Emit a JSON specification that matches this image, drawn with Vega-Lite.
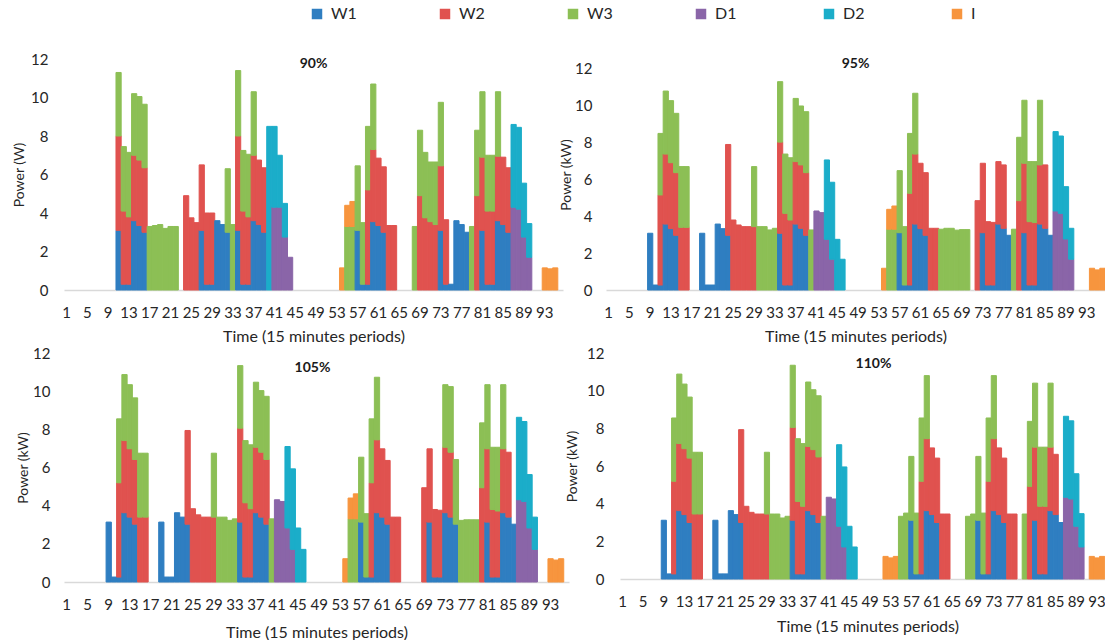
{
"$schema": "https://vega.github.io/schema/vega-lite/v6.json",
"padding": {"left": 12, "top": 6, "right": 0, "bottom": 0},
"datasets": {
"d90": [
{"t":11,"s":"W1","v":3.1},{"t":11,"s":"W2","v":4.9},{"t":11,"s":"W3","v":3.3},
{"t":12,"s":"W1","v":0.3},{"t":12,"s":"W2","v":3.8},{"t":12,"s":"W3","v":3.35},
{"t":13,"s":"W1","v":0.3},{"t":13,"s":"W2","v":3.5},{"t":13,"s":"W3","v":3.35},
{"t":14,"s":"W1","v":3.6},{"t":14,"s":"W2","v":3.4},{"t":14,"s":"W3","v":3.2},
{"t":15,"s":"W1","v":3.35},{"t":15,"s":"W2","v":3.4},{"t":15,"s":"W3","v":3.3},
{"t":16,"s":"W1","v":3.0},{"t":16,"s":"W2","v":3.35},{"t":16,"s":"W3","v":3.3},
{"t":17,"s":"W3","v":3.3},{"t":18,"s":"W3","v":3.35},{"t":19,"s":"W3","v":3.4},{"t":20,"s":"W3","v":3.2},{"t":21,"s":"W3","v":3.3},{"t":22,"s":"W3","v":3.3},
{"t":24,"s":"W2","v":4.9},{"t":25,"s":"W2","v":3.75},{"t":26,"s":"W2","v":3.5},
{"t":27,"s":"W1","v":3.1},{"t":27,"s":"W2","v":3.4},
{"t":28,"s":"W1","v":0.3},{"t":28,"s":"W2","v":3.7},
{"t":29,"s":"W1","v":0.3},{"t":29,"s":"W2","v":3.7},
{"t":30,"s":"W1","v":3.6},{"t":31,"s":"W1","v":3.4},
{"t":32,"s":"W1","v":3.0},{"t":32,"s":"W3","v":3.3},
{"t":33,"s":"W3","v":3.4},
{"t":34,"s":"W1","v":3.1},{"t":34,"s":"W2","v":4.9},{"t":34,"s":"W3","v":3.4},
{"t":35,"s":"W1","v":0.3},{"t":35,"s":"W2","v":3.8},{"t":35,"s":"W3","v":3.15},
{"t":36,"s":"W1","v":0.3},{"t":36,"s":"W2","v":3.5},{"t":36,"s":"W3","v":3.25},
{"t":37,"s":"W1","v":3.6},{"t":37,"s":"W2","v":3.4},{"t":37,"s":"W3","v":3.3},
{"t":38,"s":"W1","v":3.4},{"t":38,"s":"W2","v":3.35},
{"t":39,"s":"W1","v":3.0},{"t":39,"s":"W2","v":3.35},
{"t":40,"s":"D2","v":8.5},
{"t":41,"s":"D1","v":4.3},{"t":41,"s":"D2","v":4.2},
{"t":42,"s":"D1","v":4.3},{"t":42,"s":"D2","v":2.7},
{"t":43,"s":"D1","v":2.75},{"t":43,"s":"D2","v":1.75},
{"t":44,"s":"D1","v":1.7},
{"t":54,"s":"I","v":1.15},
{"t":55,"s":"W3","v":3.3},{"t":55,"s":"I","v":1.1},
{"t":56,"s":"W3","v":3.3},{"t":56,"s":"I","v":1.3},
{"t":57,"s":"W1","v":3.1},{"t":57,"s":"W3","v":3.35},
{"t":58,"s":"W1","v":0.3},{"t":58,"s":"W3","v":3.2},
{"t":59,"s":"W1","v":0.3},{"t":59,"s":"W2","v":4.9},{"t":59,"s":"W3","v":3.3},
{"t":60,"s":"W1","v":3.55},{"t":60,"s":"W2","v":3.75},{"t":60,"s":"W3","v":3.4},
{"t":61,"s":"W1","v":3.35},{"t":61,"s":"W2","v":3.5},
{"t":62,"s":"W1","v":3.0},{"t":62,"s":"W2","v":3.4},
{"t":63,"s":"W2","v":3.35},{"t":64,"s":"W2","v":3.35},
{"t":68,"s":"W3","v":3.3},
{"t":69,"s":"W2","v":4.9},{"t":69,"s":"W3","v":3.4},
{"t":70,"s":"W2","v":3.75},{"t":70,"s":"W3","v":3.4},
{"t":71,"s":"W2","v":3.55},{"t":71,"s":"W3","v":3.1},
{"t":72,"s":"W2","v":3.4},{"t":72,"s":"W3","v":3.25},
{"t":73,"s":"W1","v":3.1},{"t":73,"s":"W2","v":3.35},{"t":73,"s":"W3","v":3.3},
{"t":74,"s":"W1","v":0.3},{"t":74,"s":"W2","v":3.35},
{"t":75,"s":"W1","v":0.3},
{"t":76,"s":"W1","v":3.6},{"t":77,"s":"W1","v":3.4},{"t":78,"s":"W1","v":3.0},
{"t":79,"s":"W3","v":3.3},
{"t":80,"s":"W2","v":4.9},{"t":80,"s":"W3","v":3.4},
{"t":81,"s":"W1","v":3.1},{"t":81,"s":"W2","v":3.8},{"t":81,"s":"W3","v":3.4},
{"t":82,"s":"W1","v":0.3},{"t":82,"s":"W2","v":3.8},{"t":82,"s":"W3","v":2.9},
{"t":83,"s":"W1","v":0.3},{"t":83,"s":"W2","v":3.8},{"t":83,"s":"W3","v":2.9},
{"t":84,"s":"W1","v":3.6},{"t":84,"s":"W2","v":3.35},{"t":84,"s":"W3","v":3.35},
{"t":85,"s":"W1","v":3.4},{"t":85,"s":"W2","v":3.5},
{"t":86,"s":"W1","v":3.0},{"t":86,"s":"W2","v":3.35},
{"t":87,"s":"D1","v":4.3},{"t":87,"s":"D2","v":4.3},
{"t":88,"s":"D1","v":4.2},{"t":88,"s":"D2","v":4.25},
{"t":89,"s":"D1","v":2.75},{"t":89,"s":"D2","v":2.8},
{"t":90,"s":"D1","v":1.7},{"t":90,"s":"D2","v":1.75},
{"t":93,"s":"I","v":1.15},{"t":94,"s":"I","v":1.1},{"t":95,"s":"I","v":1.15}
],
"d95": [
{"t":9,"s":"W1","v":3.08},{"t":10,"s":"W1","v":0.27},
{"t":11,"s":"W1","v":0.27},{"t":11,"s":"W2","v":4.89},{"t":11,"s":"W3","v":3.34},
{"t":12,"s":"W1","v":3.58},{"t":12,"s":"W2","v":3.8},{"t":12,"s":"W3","v":3.42},
{"t":13,"s":"W1","v":3.33},{"t":13,"s":"W2","v":3.58},{"t":13,"s":"W3","v":3.37},
{"t":14,"s":"W1","v":2.97},{"t":14,"s":"W2","v":3.4},{"t":14,"s":"W3","v":3.22},
{"t":15,"s":"W2","v":3.4},{"t":15,"s":"W3","v":3.3},
{"t":16,"s":"W2","v":3.4},{"t":16,"s":"W3","v":3.3},
{"t":19,"s":"W1","v":3.08},{"t":20,"s":"W1","v":0.27},{"t":21,"s":"W1","v":0.27},
{"t":22,"s":"W1","v":3.58},{"t":23,"s":"W1","v":3.33},
{"t":24,"s":"W1","v":2.97},{"t":24,"s":"W2","v":4.93},
{"t":25,"s":"W2","v":3.8},{"t":26,"s":"W2","v":3.53},{"t":27,"s":"W2","v":3.44},{"t":28,"s":"W2","v":3.44},
{"t":29,"s":"W2","v":3.44},{"t":29,"s":"W3","v":3.26},
{"t":30,"s":"W3","v":3.44},{"t":31,"s":"W3","v":3.44},{"t":32,"s":"W3","v":3.26},{"t":33,"s":"W3","v":3.35},
{"t":34,"s":"W1","v":3.08},{"t":34,"s":"W2","v":4.95},{"t":34,"s":"W3","v":3.28},
{"t":35,"s":"W1","v":0.27},{"t":35,"s":"W2","v":3.89},{"t":35,"s":"W3","v":3.22},
{"t":36,"s":"W1","v":0.27},{"t":36,"s":"W2","v":3.53},{"t":36,"s":"W3","v":3.38},
{"t":37,"s":"W1","v":3.58},{"t":37,"s":"W2","v":3.39},{"t":37,"s":"W3","v":3.43},
{"t":38,"s":"W1","v":3.35},{"t":38,"s":"W2","v":3.44},{"t":38,"s":"W3","v":3.2},
{"t":39,"s":"W1","v":2.97},{"t":39,"s":"W2","v":3.4},{"t":39,"s":"W3","v":3.31},
{"t":40,"s":"W3","v":3.26},
{"t":41,"s":"D1","v":4.29},{"t":42,"s":"D1","v":4.2},
{"t":43,"s":"D1","v":2.75},{"t":43,"s":"D2","v":4.31},
{"t":44,"s":"D1","v":1.67},{"t":44,"s":"D2","v":4.18},
{"t":45,"s":"D2","v":2.75},{"t":46,"s":"D2","v":1.67},
{"t":54,"s":"I","v":1.18},
{"t":55,"s":"W3","v":3.3},{"t":55,"s":"I","v":1.08},
{"t":56,"s":"W3","v":3.3},{"t":56,"s":"I","v":1.26},
{"t":57,"s":"W1","v":3.11},{"t":57,"s":"W3","v":3.37},
{"t":58,"s":"W1","v":0.27},{"t":58,"s":"W3","v":3.17},
{"t":59,"s":"W1","v":0.27},{"t":59,"s":"W2","v":4.98},{"t":59,"s":"W3","v":3.25},
{"t":60,"s":"W1","v":3.58},{"t":60,"s":"W2","v":3.8},{"t":60,"s":"W3","v":3.3},
{"t":61,"s":"W1","v":3.33},{"t":61,"s":"W2","v":3.55},
{"t":62,"s":"W1","v":2.97},{"t":62,"s":"W2","v":3.4},
{"t":63,"s":"W2","v":3.35},{"t":64,"s":"W2","v":3.35},
{"t":65,"s":"W3","v":3.3},{"t":66,"s":"W3","v":3.35},{"t":67,"s":"W3","v":3.35},{"t":68,"s":"W3","v":3.25},{"t":69,"s":"W3","v":3.28},{"t":70,"s":"W3","v":3.28},
{"t":72,"s":"W2","v":4.85},
{"t":73,"s":"W1","v":3.11},{"t":73,"s":"W2","v":3.77},
{"t":74,"s":"W1","v":0.27},{"t":74,"s":"W2","v":3.44},
{"t":75,"s":"W1","v":0.27},{"t":75,"s":"W2","v":3.4},
{"t":76,"s":"W1","v":3.58},{"t":76,"s":"W2","v":3.39},
{"t":77,"s":"W1","v":3.35},{"t":77,"s":"W2","v":3.44},
{"t":78,"s":"W1","v":2.97},
{"t":79,"s":"W3","v":3.3},
{"t":80,"s":"W2","v":4.85},{"t":80,"s":"W3","v":3.44},
{"t":81,"s":"W1","v":3.11},{"t":81,"s":"W2","v":3.77},{"t":81,"s":"W3","v":3.42},
{"t":82,"s":"W1","v":0.27},{"t":82,"s":"W2","v":3.44},{"t":82,"s":"W3","v":3.26},
{"t":83,"s":"W1","v":0.27},{"t":83,"s":"W2","v":3.39},{"t":83,"s":"W3","v":3.31},
{"t":84,"s":"W1","v":3.58},{"t":84,"s":"W2","v":3.21},{"t":84,"s":"W3","v":3.51},
{"t":85,"s":"W1","v":3.35},{"t":85,"s":"W2","v":3.44},
{"t":86,"s":"W1","v":2.97},
{"t":87,"s":"D1","v":4.29},{"t":87,"s":"D2","v":4.31},
{"t":88,"s":"D1","v":4.16},{"t":88,"s":"D2","v":4.2},
{"t":89,"s":"D1","v":2.77},{"t":89,"s":"D2","v":2.84},
{"t":90,"s":"D1","v":1.67},{"t":90,"s":"D2","v":1.68},
{"t":94,"s":"I","v":1.18},{"t":95,"s":"I","v":1.09},{"t":96,"s":"I","v":1.18}
],
"d105": [
{"t":9,"s":"W1","v":3.14},{"t":10,"s":"W1","v":0.26},
{"t":11,"s":"W1","v":0.26},{"t":11,"s":"W2","v":4.94},{"t":11,"s":"W3","v":3.35},
{"t":12,"s":"W1","v":3.63},{"t":12,"s":"W2","v":3.78},{"t":12,"s":"W3","v":3.46},
{"t":13,"s":"W1","v":3.4},{"t":13,"s":"W2","v":3.58},{"t":13,"s":"W3","v":3.36},
{"t":14,"s":"W1","v":3.03},{"t":14,"s":"W2","v":3.39},{"t":14,"s":"W3","v":3.23},
{"t":15,"s":"W2","v":3.4},{"t":15,"s":"W3","v":3.35},
{"t":16,"s":"W2","v":3.4},{"t":16,"s":"W3","v":3.35},
{"t":19,"s":"W1","v":3.14},{"t":20,"s":"W1","v":0.26},{"t":21,"s":"W1","v":0.26},
{"t":22,"s":"W1","v":3.63},{"t":23,"s":"W1","v":3.4},
{"t":24,"s":"W1","v":3.03},{"t":24,"s":"W2","v":4.91},
{"t":25,"s":"W2","v":3.84},{"t":26,"s":"W2","v":3.52},{"t":27,"s":"W2","v":3.4},{"t":28,"s":"W2","v":3.4},
{"t":29,"s":"W2","v":3.4},{"t":29,"s":"W3","v":3.35},
{"t":30,"s":"W3","v":3.4},{"t":31,"s":"W3","v":3.4},{"t":32,"s":"W3","v":3.23},{"t":33,"s":"W3","v":3.31},
{"t":34,"s":"W1","v":3.14},{"t":34,"s":"W2","v":4.92},{"t":34,"s":"W3","v":3.28},
{"t":35,"s":"W1","v":0.26},{"t":35,"s":"W2","v":3.89},{"t":35,"s":"W3","v":3.26},
{"t":36,"s":"W1","v":0.26},{"t":36,"s":"W2","v":3.58},{"t":36,"s":"W3","v":3.35},
{"t":37,"s":"W1","v":3.63},{"t":37,"s":"W2","v":3.43},{"t":37,"s":"W3","v":3.41},
{"t":38,"s":"W1","v":3.4},{"t":38,"s":"W2","v":3.4},{"t":38,"s":"W3","v":3.23},
{"t":39,"s":"W1","v":3.03},{"t":39,"s":"W2","v":3.39},{"t":39,"s":"W3","v":3.31},
{"t":40,"s":"W3","v":3.31},
{"t":41,"s":"D1","v":4.31},{"t":42,"s":"D1","v":4.22},
{"t":43,"s":"D1","v":2.83},{"t":43,"s":"D2","v":4.27},
{"t":44,"s":"D1","v":1.71},{"t":44,"s":"D2","v":4.22},
{"t":45,"s":"D2","v":2.83},{"t":46,"s":"D2","v":1.71},
{"t":54,"s":"I","v":1.22},
{"t":55,"s":"W3","v":3.31},{"t":55,"s":"I","v":1.09},
{"t":56,"s":"W3","v":3.31},{"t":56,"s":"I","v":1.31},
{"t":57,"s":"W1","v":3.14},{"t":57,"s":"W3","v":3.4},
{"t":58,"s":"W1","v":0.26},{"t":58,"s":"W3","v":3.32},
{"t":59,"s":"W1","v":0.26},{"t":59,"s":"W2","v":4.94},{"t":59,"s":"W3","v":3.35},
{"t":60,"s":"W1","v":3.63},{"t":60,"s":"W2","v":3.82},{"t":60,"s":"W3","v":3.28},
{"t":61,"s":"W1","v":3.4},{"t":61,"s":"W2","v":3.58},
{"t":62,"s":"W1","v":3.03},{"t":62,"s":"W2","v":3.34},
{"t":63,"s":"W2","v":3.4},{"t":64,"s":"W2","v":3.4},
{"t":69,"s":"W2","v":4.94},
{"t":70,"s":"W1","v":3.14},{"t":70,"s":"W2","v":3.84},
{"t":71,"s":"W1","v":0.26},{"t":71,"s":"W2","v":3.54},
{"t":72,"s":"W1","v":0.26},{"t":72,"s":"W2","v":3.5},
{"t":73,"s":"W1","v":3.63},{"t":73,"s":"W2","v":3.43},{"t":73,"s":"W3","v":3.28},
{"t":74,"s":"W1","v":3.4},{"t":74,"s":"W2","v":3.4},{"t":74,"s":"W3","v":3.44},
{"t":75,"s":"W1","v":3.03},{"t":75,"s":"W3","v":3.39},
{"t":76,"s":"W3","v":3.23},{"t":77,"s":"W3","v":3.26},{"t":78,"s":"W3","v":3.26},{"t":79,"s":"W3","v":3.26},
{"t":80,"s":"W2","v":4.94},{"t":80,"s":"W3","v":3.4},
{"t":81,"s":"W1","v":3.14},{"t":81,"s":"W2","v":3.84},{"t":81,"s":"W3","v":3.36},
{"t":82,"s":"W1","v":0.26},{"t":82,"s":"W2","v":3.54},{"t":82,"s":"W3","v":3.26},
{"t":83,"s":"W1","v":0.26},{"t":83,"s":"W2","v":3.46},{"t":83,"s":"W3","v":3.34},
{"t":84,"s":"W1","v":3.63},{"t":84,"s":"W2","v":3.35},{"t":84,"s":"W3","v":3.36},
{"t":85,"s":"W1","v":3.4},{"t":85,"s":"W2","v":3.4},
{"t":86,"s":"W1","v":3.03},
{"t":87,"s":"D1","v":4.31},{"t":87,"s":"D2","v":4.32},
{"t":88,"s":"D1","v":4.22},{"t":88,"s":"D2","v":4.19},
{"t":89,"s":"D1","v":2.83},{"t":89,"s":"D2","v":2.8},
{"t":90,"s":"D1","v":1.71},{"t":90,"s":"D2","v":1.69},
{"t":93,"s":"I","v":1.22},{"t":94,"s":"I","v":1.15},{"t":95,"s":"I","v":1.22}
],
"d110": [
{"t":9,"s":"W1","v":3.12},{"t":10,"s":"W1","v":0.27},
{"t":11,"s":"W1","v":0.27},{"t":11,"s":"W2","v":4.92},{"t":11,"s":"W3","v":3.36},
{"t":12,"s":"W1","v":3.63},{"t":12,"s":"W2","v":3.56},{"t":12,"s":"W3","v":3.69},
{"t":13,"s":"W1","v":3.42},{"t":13,"s":"W2","v":3.5},{"t":13,"s":"W3","v":3.43},
{"t":14,"s":"W1","v":3.0},{"t":14,"s":"W2","v":3.42},{"t":14,"s":"W3","v":3.24},
{"t":15,"s":"W2","v":3.45},{"t":15,"s":"W3","v":3.28},
{"t":16,"s":"W2","v":3.45},{"t":16,"s":"W3","v":3.28},
{"t":19,"s":"W1","v":3.12},{"t":20,"s":"W1","v":0.27},{"t":21,"s":"W1","v":0.27},
{"t":22,"s":"W1","v":3.63},{"t":23,"s":"W1","v":3.42},
{"t":24,"s":"W1","v":3.0},{"t":24,"s":"W2","v":4.93},
{"t":25,"s":"W2","v":3.86},{"t":26,"s":"W2","v":3.54},{"t":27,"s":"W2","v":3.45},{"t":28,"s":"W2","v":3.45},
{"t":29,"s":"W2","v":3.45},{"t":29,"s":"W3","v":3.28},
{"t":30,"s":"W3","v":3.45},{"t":31,"s":"W3","v":3.45},{"t":32,"s":"W3","v":3.24},{"t":33,"s":"W3","v":3.33},
{"t":34,"s":"W1","v":3.12},{"t":34,"s":"W2","v":4.93},{"t":34,"s":"W3","v":3.3},
{"t":35,"s":"W1","v":0.27},{"t":35,"s":"W2","v":3.85},{"t":35,"s":"W3","v":3.33},
{"t":36,"s":"W1","v":0.27},{"t":36,"s":"W2","v":3.59},{"t":36,"s":"W3","v":3.33},
{"t":37,"s":"W1","v":3.63},{"t":37,"s":"W2","v":3.41},{"t":37,"s":"W3","v":3.42},
{"t":38,"s":"W1","v":3.42},{"t":38,"s":"W2","v":3.45},{"t":38,"s":"W3","v":3.18},
{"t":39,"s":"W1","v":3.0},{"t":39,"s":"W2","v":3.48},{"t":39,"s":"W3","v":3.25},
{"t":40,"s":"W3","v":3.33},
{"t":41,"s":"D1","v":4.34},{"t":42,"s":"D1","v":4.25},
{"t":43,"s":"D1","v":2.8},{"t":43,"s":"D2","v":4.33},
{"t":44,"s":"D1","v":1.7},{"t":44,"s":"D2","v":4.25},
{"t":45,"s":"D2","v":2.8},{"t":46,"s":"D2","v":1.7},
{"t":52,"s":"I","v":1.2},{"t":53,"s":"I","v":1.12},{"t":54,"s":"I","v":1.2},
{"t":55,"s":"W3","v":3.33},{"t":56,"s":"W3","v":3.5},
{"t":57,"s":"W1","v":3.12},{"t":57,"s":"W3","v":3.39},
{"t":58,"s":"W1","v":0.27},{"t":58,"s":"W3","v":3.23},
{"t":59,"s":"W1","v":0.27},{"t":59,"s":"W2","v":4.92},{"t":59,"s":"W3","v":3.36},
{"t":60,"s":"W1","v":3.63},{"t":60,"s":"W2","v":3.82},{"t":60,"s":"W3","v":3.35},
{"t":61,"s":"W1","v":3.42},{"t":61,"s":"W2","v":3.54},
{"t":62,"s":"W1","v":3.0},{"t":62,"s":"W2","v":3.42},
{"t":63,"s":"W2","v":3.45},{"t":64,"s":"W2","v":3.45},
{"t":68,"s":"W3","v":3.33},{"t":69,"s":"W3","v":3.45},
{"t":70,"s":"W1","v":3.12},{"t":70,"s":"W3","v":3.39},
{"t":71,"s":"W1","v":0.27},{"t":71,"s":"W3","v":3.23},
{"t":72,"s":"W1","v":0.27},{"t":72,"s":"W2","v":4.92},{"t":72,"s":"W3","v":3.36},
{"t":73,"s":"W1","v":3.63},{"t":73,"s":"W2","v":3.82},{"t":73,"s":"W3","v":3.35},
{"t":74,"s":"W1","v":3.42},{"t":74,"s":"W2","v":3.54},
{"t":75,"s":"W1","v":3.0},{"t":75,"s":"W2","v":3.42},
{"t":76,"s":"W2","v":3.45},{"t":77,"s":"W2","v":3.45},
{"t":79,"s":"W3","v":3.45},
{"t":80,"s":"W2","v":4.92},{"t":80,"s":"W3","v":3.45},
{"t":81,"s":"W1","v":3.12},{"t":81,"s":"W2","v":3.88},{"t":81,"s":"W3","v":3.4},
{"t":82,"s":"W1","v":0.27},{"t":82,"s":"W2","v":3.59},{"t":82,"s":"W3","v":3.14},
{"t":83,"s":"W1","v":0.27},{"t":83,"s":"W2","v":3.59},{"t":83,"s":"W3","v":3.14},
{"t":84,"s":"W1","v":3.63},{"t":84,"s":"W2","v":3.37},{"t":84,"s":"W3","v":3.4},
{"t":85,"s":"W1","v":3.42},{"t":85,"s":"W2","v":3.2},
{"t":86,"s":"W1","v":3.0},
{"t":87,"s":"D1","v":4.34},{"t":87,"s":"D2","v":4.3},
{"t":88,"s":"D1","v":4.25},{"t":88,"s":"D2","v":4.15},
{"t":89,"s":"D1","v":2.8},{"t":89,"s":"D2","v":2.79},
{"t":90,"s":"D1","v":1.7},{"t":90,"s":"D2","v":1.77},
{"t":92,"s":"I","v":1.2},{"t":93,"s":"I","v":1.12},{"t":94,"s":"I","v":1.2}
]
},
"vconcat": [
{"hconcat": [
{"data": {"name": "d90"}, "width": 499, "height": 231,
 "title": {"text": "90%", "offset": -19},
 "transform": [{"calculate": "indexof(['W1','W2','W3','D1','D2','I'], datum.s)", "as": "o"}],
 "mark": {"type": "bar", "strokeWidth": 1},
 "encoding": {
  "x": {"field": "t", "type": "ordinal", "scale": {"domain": [1,2,3,4,5,6,7,8,9,10,11,12,13,14,15,16,17,18,19,20,21,22,23,24,25,26,27,28,29,30,31,32,33,34,35,36,37,38,39,40,41,42,43,44,45,46,47,48,49,50,51,52,53,54,55,56,57,58,59,60,61,62,63,64,65,66,67,68,69,70,71,72,73,74,75,76,77,78,79,80,81,82,83,84,85,86,87,88,89,90,91,92,93,94,95,96], "paddingInner": 0, "paddingOuter": 0}, "axis": {"values": [1,5,9,13,17,21,25,29,33,37,41,45,49,53,57,61,65,69,73,77,81,85,89,93], "title": "Time (15 minutes periods)", "titlePadding": 8}},
  "y": {"field": "v", "type": "quantitative", "stack": "zero", "scale": {"domain": [0,12], "nice": false}, "axis": {"values": [0,2,4,6,8,10,12], "title": "Power (W)", "labelPadding": 16, "titlePadding": 4}},
  "color": {"field": "s", "type": "nominal", "scale": {"domain": ["W1","W2","W3","D1","D2","I"], "range": ["#2F7EC1","#E0524F","#8CBF55","#8A65A8","#1BADC9","#F7953E"]},
   "legend": {"orient": "none", "legendX": 245, "legendY": -53, "direction": "horizontal", "columns": 6, "title": null, "symbolType": "square", "symbolSize": 110, "symbolStrokeWidth": 0, "labelFontSize": 16, "labelOffset": 6, "columnPadding": 80, "gridAlign": "all", "labelColor": "#262626"}},
  "stroke": {"field": "s", "type": "nominal", "scale": {"domain": ["W1","W2","W3","D1","D2","I"], "range": ["#2F7EC1","#E0524F","#8CBF55","#8A65A8","#1BADC9","#F7953E"]}, "legend": null},
  "order": {"field": "o", "type": "quantitative"}
 }},
{"data": {"name": "d95"}, "width": 499, "height": 231,
 "title": {"text": "95%", "offset": -12},
 "transform": [{"calculate": "indexof(['W1','W2','W3','D1','D2','I'], datum.s)", "as": "o"}],
 "mark": {"type": "bar", "strokeWidth": 1},
 "encoding": {
  "x": {"field": "t", "type": "ordinal", "scale": {"domain": [1,2,3,4,5,6,7,8,9,10,11,12,13,14,15,16,17,18,19,20,21,22,23,24,25,26,27,28,29,30,31,32,33,34,35,36,37,38,39,40,41,42,43,44,45,46,47,48,49,50,51,52,53,54,55,56,57,58,59,60,61,62,63,64,65,66,67,68,69,70,71,72,73,74,75,76,77,78,79,80,81,82,83,84,85,86,87,88,89,90,91,92,93,94,95,96], "paddingInner": 0, "paddingOuter": 0}, "axis": {"values": [1,5,9,13,17,21,25,29,33,37,41,45,49,53,57,61,65,69,73,77,81,85,89,93], "title": "Time (15 minutes periods)", "titlePadding": 8}},
  "y": {"field": "v", "type": "quantitative", "stack": "zero", "scale": {"domain": [0,12.54], "nice": false}, "axis": {"values": [0,2,4,6,8,10,12], "title": "Power (kW)", "labelPadding": 14, "titlePadding": 1}},
  "color": {"field": "s", "type": "nominal", "scale": {"domain": ["W1","W2","W3","D1","D2","I"], "range": ["#2F7EC1","#E0524F","#8CBF55","#8A65A8","#1BADC9","#F7953E"]}},
  "stroke": {"field": "s", "type": "nominal", "scale": {"domain": ["W1","W2","W3","D1","D2","I"], "range": ["#2F7EC1","#E0524F","#8CBF55","#8A65A8","#1BADC9","#F7953E"]}, "legend": null},
  "order": {"field": "o", "type": "quantitative"}
 }}
], "spacing": -4},
{"hconcat": [
{"data": {"name": "d105"}, "width": 505, "height": 229,
 "title": {"text": "105%", "offset": -29, "dx": -4},
 "transform": [{"calculate": "indexof(['W1','W2','W3','D1','D2','I'], datum.s)", "as": "o"}],
 "mark": {"type": "bar", "strokeWidth": 1},
 "encoding": {
  "x": {"field": "t", "type": "ordinal", "scale": {"domain": [1,2,3,4,5,6,7,8,9,10,11,12,13,14,15,16,17,18,19,20,21,22,23,24,25,26,27,28,29,30,31,32,33,34,35,36,37,38,39,40,41,42,43,44,45,46,47,48,49,50,51,52,53,54,55,56,57,58,59,60,61,62,63,64,65,66,67,68,69,70,71,72,73,74,75,76,77,78,79,80,81,82,83,84,85,86,87,88,89,90,91,92,93,94,95,96], "paddingInner": 0, "paddingOuter": 0}, "axis": {"values": [1,5,9,13,17,21,25,29,33,37,41,45,49,53,57,61,65,69,73,77,81,85,89,93], "title": "Time (15 minutes periods)", "titlePadding": 12}},
  "y": {"field": "v", "type": "quantitative", "stack": "zero", "scale": {"domain": [0,12], "nice": false}, "axis": {"values": [0,2,4,6,8,10,12], "title": "Power (kW)", "labelPadding": 14, "titlePadding": 2}},
  "color": {"field": "s", "type": "nominal", "scale": {"domain": ["W1","W2","W3","D1","D2","I"], "range": ["#2F7EC1","#E0524F","#8CBF55","#8A65A8","#1BADC9","#F7953E"]}},
  "stroke": {"field": "s", "type": "nominal", "scale": {"domain": ["W1","W2","W3","D1","D2","I"], "range": ["#2F7EC1","#E0524F","#8CBF55","#8A65A8","#1BADC9","#F7953E"]}, "legend": null},
  "order": {"field": "o", "type": "quantitative"}
 }},
{"data": {"name": "d110"}, "width": 495, "height": 226,
 "title": {"text": "110%", "offset": -25, "dx": 6},
 "transform": [{"calculate": "indexof(['W1','W2','W3','D1','D2','I'], datum.s)", "as": "o"}],
 "mark": {"type": "bar", "strokeWidth": 1},
 "encoding": {
  "x": {"field": "t", "type": "ordinal", "scale": {"domain": [1,2,3,4,5,6,7,8,9,10,11,12,13,14,15,16,17,18,19,20,21,22,23,24,25,26,27,28,29,30,31,32,33,34,35,36,37,38,39,40,41,42,43,44,45,46,47,48,49,50,51,52,53,54,55,56,57,58,59,60,61,62,63,64,65,66,67,68,69,70,71,72,73,74,75,76,77,78,79,80,81,82,83,84,85,86,87,88,89,90,91,92,93,94,95,96], "paddingInner": 0, "paddingOuter": 0}, "axis": {"values": [1,5,9,13,17,21,25,29,33,37,41,45,49,53,57,61,65,69,73,77,81,85,89,93], "title": "Time (15 minutes periods)", "titlePadding": 9}},
  "y": {"field": "v", "type": "quantitative", "stack": "zero", "scale": {"domain": [0,12], "nice": false}, "axis": {"values": [0,2,4,6,8,10,12], "title": "Power (kW)", "labelPadding": 16, "titlePadding": 7}},
  "color": {"field": "s", "type": "nominal", "scale": {"domain": ["W1","W2","W3","D1","D2","I"], "range": ["#2F7EC1","#E0524F","#8CBF55","#8A65A8","#1BADC9","#F7953E"]}},
  "stroke": {"field": "s", "type": "nominal", "scale": {"domain": ["W1","W2","W3","D1","D2","I"], "range": ["#2F7EC1","#E0524F","#8CBF55","#8A65A8","#1BADC9","#F7953E"]}, "legend": null},
  "order": {"field": "o", "type": "quantitative"}
 }}
], "spacing": -4}
],
"spacing": 2,
"config": {
 "font": "Lato",
 "view": {"stroke": null},
 "axis": {"grid": false, "ticks": false, "labelColor": "#262626", "titleColor": "#262626", "titleFontWeight": "normal", "labelFontSize": 15, "labelFont": "Lato", "titleFont": "Lato"},
 "axisX": {"domainColor": "#d9d9d9", "domainWidth": 1.5, "labelPadding": 15, "titleFontSize": 16, "labelAngle": 0},
 "axisY": {"domain": false, "titleFontSize": 14},
 "title": {"fontSize": 14, "fontWeight": "bold", "anchor": "middle", "frame": "group", "color": "#1a1a1a"}
}
}
